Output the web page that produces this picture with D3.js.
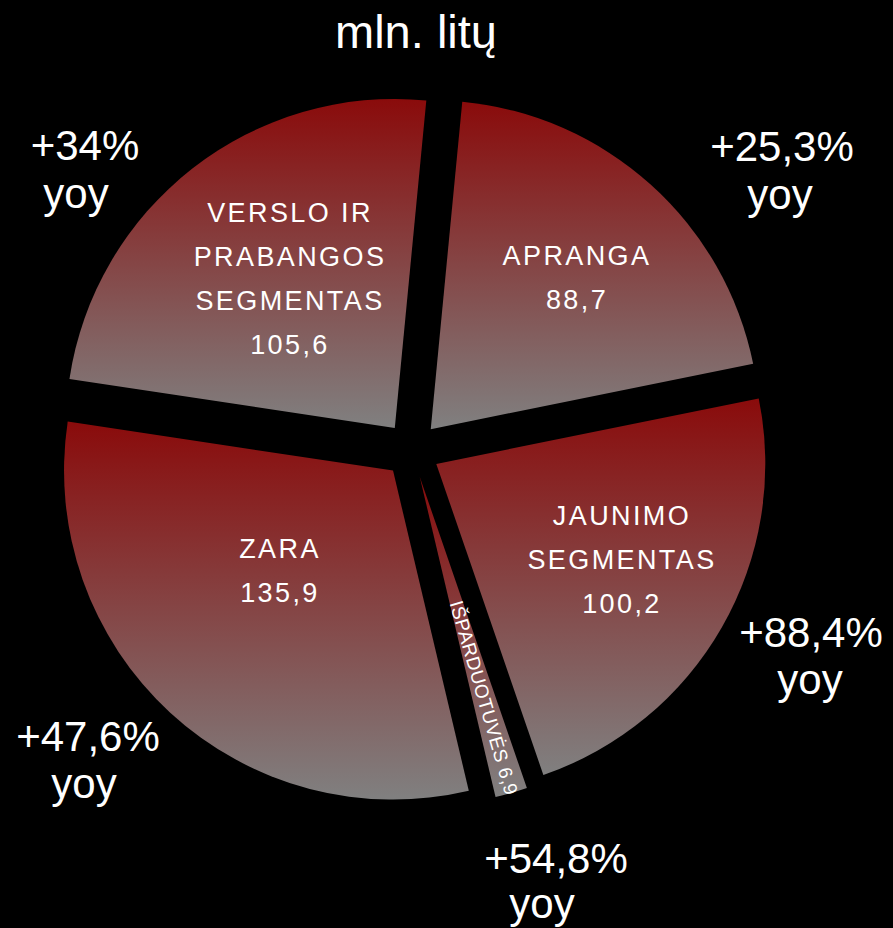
<!DOCTYPE html>
<html>
<head>
<meta charset="utf-8">
<script src="https://cdn.jsdelivr.net/npm/d3@7"></script>
<style>
    html, body { margin: 0; padding: 0; background: #000; }
    svg { display: block; }
    text { font-family: "Liberation Sans", Arial, sans-serif; fill: #fff; }
</style>
</head>
<body>
<div id="chart"></div>
<script>

//==================================//
// Data
//

const segments = ['APRANGA', 'JAUNIMO SEGMENTAS', 'IŠPARDUOTUVĖS', 'ZARA', 'VERSLO IR PRABANGOS SEGMENTAS']
const sales = [88.7, 100.2, 6.9, 135.9, 105.6]
const yoyGrowth = ['+25,3%', '+88,4%', '+54,8%', '+47,6%', '+34%']
const labelLines = [['APRANGA'], ['JAUNIMO', 'SEGMENTAS'], ['IŠPARDUOTUVĖS'], ['ZARA'], ['VERSLO IR', 'PRABANGOS', 'SEGMENTAS']]
const unitLabel = 'mln. litų'

//==================================//
// Layout
//

const svgw = 893, svgh = 928
const cx = 412, cy = 450
const radius = 329, explode = 28
const startDeg = 5.5

// first baseline of the label inside each slice (null = rotated label)
const innerLabelPos = [[577, 265], [622, 525], null, [280, 558], [290, 222]]
const innerLineH = 44
// yoy labels: [x line1, baseline line1, x line2, baseline line2]
const yoyPos = [[782, 161, 780, 209], [811, 647, 810, 694], [556, 873, 542, 918], [88, 751, 84, 798], [85, 160, 76, 208]]

const fmt = v => v.toFixed(1).replace('.', ',')

let data = segments.map((s, i) => ({name: s, value: sales[i], yoy: yoyGrowth[i], lines: labelLines[i]}))

let svg = d3.select('#chart').append('svg')
    .attr('width', svgw)
    .attr('height', svgh)

svg.append('rect')
    .attr('width', svgw)
    .attr('height', svgh)
    .attr('fill', '#000')

//====[ gradient, one per slice bbox ]====//

let grad = svg.append('defs').append('linearGradient')
    .attr('id', 'sliceGrad')
    .attr('x1', 0).attr('y1', 0)
    .attr('x2', 0).attr('y2', 1)
grad.append('stop').attr('offset', '0%').attr('stop-color', '#8a0b0b')
grad.append('stop').attr('offset', '100%').attr('stop-color', '#808080')

//====[ pie ]====//

let a0 = startDeg * Math.PI / 180
let pie = d3.pie()
    .sort(null)
    .value(d => d.value)
    .startAngle(a0)
    .endAngle(a0 + 2 * Math.PI)

let arc = d3.arc().innerRadius(0).outerRadius(radius)

let arcs = pie(data)
arcs.forEach(d => { d.mid = (d.startAngle + d.endAngle) / 2 })

let g_pie = svg.append('g')
    .attr('transform', 'translate(' + cx + ',' + cy + ')')

g_pie.selectAll('path')
    .data(arcs)
    .enter()
    .append('path')
    .attr('transform', d => 'translate(' + (explode * Math.sin(d.mid)) + ',' + (-explode * Math.cos(d.mid)) + ')')
    .attr('d', arc)
    .attr('fill', 'url(#sliceGrad)')

//====[ labels inside slices ]====//

arcs.forEach((d, i) => {
    let pos = innerLabelPos[i]
    if (pos) {
        let t = svg.append('text')
            .attr('text-anchor', 'middle')
            .style('font-size', '27px')
            .style('letter-spacing', '2.4px')
        d.data.lines.concat([fmt(d.data.value)]).forEach((line, k) => {
            t.append('tspan')
                .attr('x', pos[0])
                .attr('y', pos[1] + k * innerLineH)
                .text(line)
        })
    } else {
        // thin slice: label runs along the bisector
        let r = 258
        let x = cx + r * Math.sin(d.mid), y = cy - r * Math.cos(d.mid)
        let rot = d.mid * 180 / Math.PI - 90
        svg.append('text')
            .attr('transform', 'translate(' + x + ',' + y + ') rotate(' + rot + ')')
            .attr('text-anchor', 'middle')
            .attr('dominant-baseline', 'central')
            .style('font-size', '19px')
            .style('letter-spacing', '0.5px')
            .text(d.data.lines[0] + ' ' + fmt(d.data.value))
    }
})

//====[ yoy labels ]====//

arcs.forEach((d, i) => {
    let p = yoyPos[i]
    let t = svg.append('text')
        .attr('text-anchor', 'middle')
        .style('font-size', '42px')
    t.append('tspan').attr('x', p[0]).attr('y', p[1]).text(d.data.yoy)
    t.append('tspan').attr('x', p[2]).attr('y', p[3]).text('yoy')
})

//====[ title ]====//

svg.append('text')
    .attr('x', 416)
    .attr('y', 48)
    .attr('text-anchor', 'middle')
    .style('font-size', '47px')
    .text(unitLabel)

</script>
</body>
</html>
